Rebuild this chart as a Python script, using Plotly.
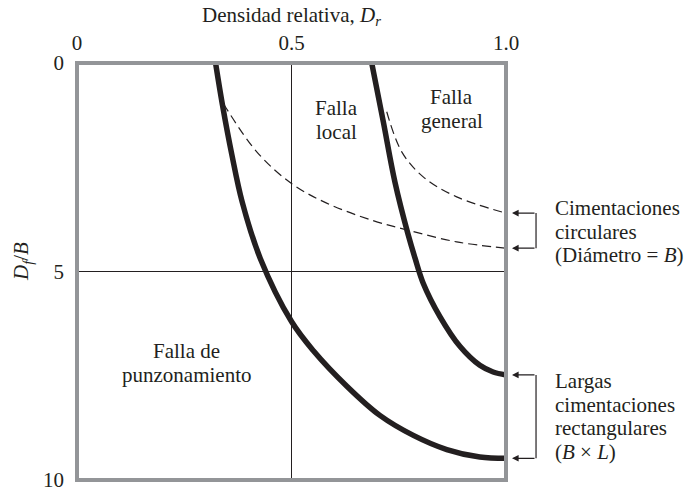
import plotly.graph_objects as go

# ---- data ----
x_ticks = [0, 0.5, 1.0]
x_ticktext = ["0", "0.5", "1.0"]
y_ticks = [0, 5, 10]
y_ticktext = ["0", "5", "10"]

# Long rectangular foundations: punching / local boundary
rect_punz_dr = [0.323, 0.339, 0.361, 0.385, 0.427, 0.50, 0.551, 0.629, 0.706, 0.784, 0.862, 0.939, 1.0]
rect_punz_d = [0.0, 1.0, 2.2, 3.33, 4.68, 6.2, 6.9, 7.75, 8.45, 8.93, 9.27, 9.45, 9.48]

# Long rectangular foundations: local / general boundary
rect_gen_dr = [0.687, 0.714, 0.741, 0.772, 0.788, 0.807, 0.846, 0.893, 0.939, 0.97, 1.0]
rect_gen_d = [0.0, 1.41, 2.85, 4.12, 4.68, 5.28, 6.08, 6.80, 7.25, 7.41, 7.48]

# Circular foundations: punching / local boundary
circ_punz_dr = [0.341, 0.419, 0.50, 0.582, 0.69, 0.768, 0.885, 1.0]
circ_punz_d = [0.97, 2.13, 2.89, 3.36, 3.78, 4.0, 4.29, 4.44]

# Circular foundations: local / general boundary
circ_gen_dr = [0.722, 0.757, 0.807, 0.885, 1.0]
circ_gen_d = [1.17, 2.13, 2.73, 3.21, 3.6]

region_lines = [["Falla", "local"], ["Falla", "general"], ["Falla de", "punzonamiento"]]
region_dr = [0.606, 0.874, 0.256]
region_d = [1.37, 1.1, 7.2]

circ_label = ["Cimentaciones", "circulares", "(Diámetro = <i>B</i>)"]
rect_label = ["Largas", "cimentaciones", "rectangulares", "(<i>B</i> × <i>L</i>)"]

FONT = "Liberation Serif"
INK = "#231f20"
FRAME = "#939598"
FS = 21
LINE_D = 0.565  # line spacing in D/B units (~24 px)

fig = go.Figure()

for xs, ys in [(rect_punz_dr, rect_punz_d), (rect_gen_dr, rect_gen_d)]:
    fig.add_trace(go.Scatter(x=xs, y=ys, mode="lines",
                             line=dict(color=INK, width=5.5, shape="spline", smoothing=1.0),
                             hoverinfo="skip", showlegend=False))
for xs, ys in [(circ_punz_dr, circ_punz_d), (circ_gen_dr, circ_gen_d)]:
    fig.add_trace(go.Scatter(x=xs, y=ys, mode="lines",
                             line=dict(color=INK, width=1.2, dash="9px,5px", shape="spline", smoothing=1.0),
                             hoverinfo="skip", showlegend=False))


def add_lines(lines, x, yc, xref, xanchor, align):
    n = len(lines)
    for i, t in enumerate(lines):
        fig.add_annotation(x=x, y=yc + (i - (n - 1) / 2) * LINE_D, xref=xref, yref="y",
                           text=t, showarrow=False, xanchor=xanchor, yanchor="middle",
                           align=align, font=dict(family=FONT, size=FS, color=INK))


for lines, xv, yv in zip(region_lines, region_dr, region_d):
    add_lines(lines, xv, yv, "x", "center", "center")

# frame
fig.add_shape(type="rect", xref="paper", yref="paper", x0=0, x1=1, y0=0, y1=1,
              line=dict(color=FRAME, width=4), layer="above")

# brackets with arrows on the right
tip_x = 1.014
bracket_x = 1.07
for y0, y1 in [(circ_gen_d[-1], circ_punz_d[-1]), (rect_gen_d[-1], rect_punz_d[-1])]:
    fig.add_shape(type="line", xref="paper", yref="y", x0=bracket_x, x1=bracket_x, y0=y0, y1=y1,
                  line=dict(color=INK, width=1.2))
    for yy in (y0, y1):
        fig.add_annotation(x=tip_x, y=yy, xref="paper", yref="y", text="", showarrow=True,
                           ax=24, ay=0, arrowhead=2, arrowsize=1.1, arrowwidth=1.2,
                           arrowcolor=INK)

add_lines(circ_label, 1.1096, (circ_gen_d[-1] + circ_punz_d[-1]) / 2 + 0.03, "paper", "left", "left")
add_lines(rect_label, 1.1096, (rect_gen_d[-1] + rect_punz_d[-1]) / 2, "paper", "left", "left")

# axis titles
fig.add_annotation(x=0.5, y=1.1127, xref="paper", yref="paper", xanchor="center", yanchor="middle",
                   text="Densidad relativa, <i>D</i><sub><i>r</i></sub>", showarrow=False,
                   font=dict(family=FONT, size=FS, color=INK))
fig.add_annotation(x=-0.128, y=0.523, xref="paper", yref="paper", xanchor="center", yanchor="middle",
                   text="<i>D</i><sub><i>f</i></sub>/<i>B</i>", showarrow=False, textangle=-90,
                   font=dict(family=FONT, size=FS, color=INK))

fig.update_layout(
    width=688, height=495,
    margin=dict(l=77, r=182, t=63, b=15, autoexpand=False),
    paper_bgcolor="white", plot_bgcolor="white",
    showlegend=False,
    font=dict(family=FONT, size=FS, color=INK),
)
fig.update_xaxes(range=[0, 1], side="top", tickvals=x_ticks, ticktext=x_ticktext, automargin=False,
                 showgrid=True, gridcolor=INK, gridwidth=1.2, zeroline=False, showline=False,
                 ticks="", ticklabelstandoff=8, tickfont=dict(family=FONT, size=FS, color=INK))
fig.update_yaxes(range=[10, 0], tickvals=y_ticks, ticktext=y_ticktext, automargin=False,
                 showgrid=True, gridcolor=INK, gridwidth=1.2, zeroline=False, showline=False,
                 ticks="", ticklabelstandoff=12, tickfont=dict(family=FONT, size=FS, color=INK))

fig.write_html("out.html", config={"displayModeBar": False},
               post_script="document.body.style.margin='0';document.body.style.overflow='hidden';")
